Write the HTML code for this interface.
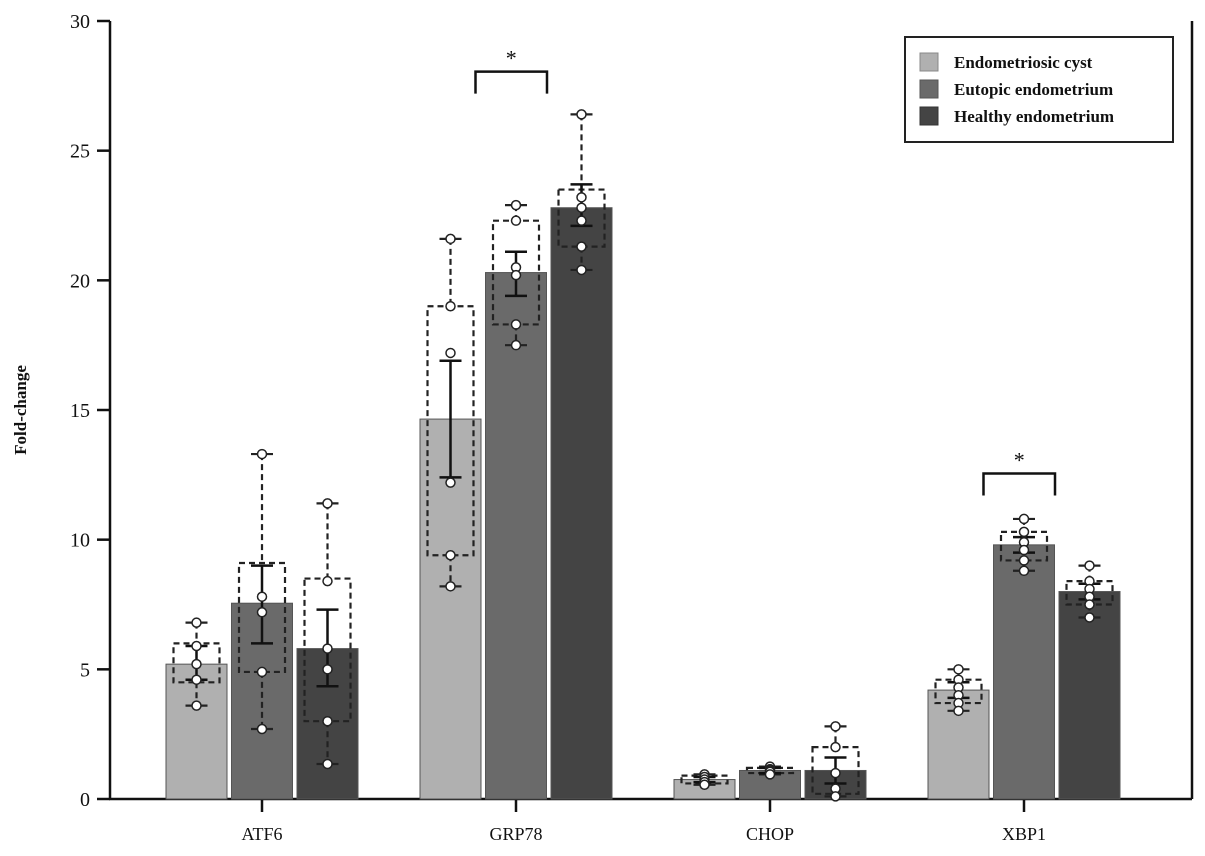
<!DOCTYPE html>
<html><head><meta charset="utf-8"><style>body{margin:0;background:#fff}svg{display:block}text{font-family:"Liberation Serif",serif;fill:#111}</style></head>
<body>
<svg id="chart" width="1205" height="856" xmlns="http://www.w3.org/2000/svg">
<g id="axes"></g>
<g id="marks"></g>
<g id="legend">
<rect x="905" y="37" width="268" height="105" fill="#fff" stroke="#222" stroke-width="2"/>
<rect x="920" y="53" width="18" height="18" fill="#b0b0b0" stroke="#888" stroke-width="1"/>
<text x="954" y="68" font-size="17" font-weight="bold">Endometriosic cyst</text>
<rect x="920" y="80" width="18" height="18" fill="#6a6a6a" stroke="#555" stroke-width="1"/>
<text x="954" y="95" font-size="17" font-weight="bold">Eutopic endometrium</text>
<rect x="920" y="107" width="18" height="18" fill="#444" stroke="#333" stroke-width="1"/>
<text x="954" y="122" font-size="17" font-weight="bold">Healthy endometrium</text>
</g>
</svg>
<script>
const categories=["ATF6","GRP78","CHOP","XBP1"];
const yTicks=[0,5,10,15,20,25,30];
const means=[[5.2,7.55,5.8],[14.65,20.3,22.8],[0.75,1.1,1.1],[4.2,9.8,8.0]];
const seLow=[[4.6,6.0,4.35],[12.4,19.4,22.1],[0.65,1.0,0.6],[3.9,9.5,7.7]];
const seHigh=[[5.9,9.0,7.3],[16.9,21.1,23.7],[0.85,1.2,1.6],[4.5,10.1,8.3]];
const q1=[[4.5,4.9,3.0],[9.4,18.3,21.3],[0.6,1.0,0.2],[3.7,9.2,7.5]];
const q3=[[6.0,9.1,8.5],[19.0,22.3,23.5],[0.9,1.2,2.0],[4.6,10.3,8.4]];
const mins=[[3.6,2.7,1.35],[8.2,17.5,20.4],[0.55,0.95,0.1],[3.4,8.8,7.0]];
const maxs=[[6.8,13.3,11.4],[21.6,22.9,26.4],[0.95,1.25,2.8],[5.0,10.8,9.0]];
const points=[
 [[6.8,5.9,5.2,4.6,3.6],[13.3,7.8,7.2,4.9,2.7],[11.4,8.4,5.8,5.0,3.0,1.35]],
 [[21.6,19.0,17.2,12.2,9.4,8.2],[22.9,22.3,20.5,20.2,18.3,17.5],[26.4,23.2,22.8,22.3,21.3,20.4]],
 [[0.95,0.85,0.75,0.65,0.55],[1.25,1.15,1.1,1.05,0.95],[2.8,2.0,1.0,0.4,0.1]],
 [[5.0,4.6,4.3,4.0,3.7,3.4],[10.8,10.3,9.9,9.6,9.2,8.8],[9.0,8.4,8.1,7.8,7.5,7.0]]];
const sig=[{cat:1,a:0,b:1,h:28.05},{cat:3,a:0,b:1,h:12.55}];
const colors=["#b0b0b0","#6a6a6a","#444444"];
const NS="http://www.w3.org/2000/svg";
const y0=799,yTop=21,xL=110,xR=1192;
const y=v=>y0-(v/30)*(y0-yTop);
const cx=i=>262+i*254;
const bx=(i,j)=>cx(i)+(j-1)*65.5;
const BW=61;
function mk(p,tag,at){const e=document.createElementNS(NS,tag);for(const k in at)e.setAttribute(k,at[k]);p.appendChild(e);return e;}
const ax=document.getElementById('axes'),mg=document.getElementById('marks');
let e;
e=mk(ax,'line',{x1:xL,y1:yTop,x2:xL,y2:y0+1,stroke:'#111','stroke-width':2.5});

e=mk(ax,'line',{x1:xL-1,y1:y0,x2:xR,y2:y0,stroke:'#111','stroke-width':2.5});

e=mk(ax,'line',{x1:xR,y1:yTop,x2:xR,y2:y0,stroke:'#111','stroke-width':2.5});

yTicks.forEach(t=>{
 e=mk(ax,'line',{x1:xL-13,y1:y(t),x2:xL,y2:y(t),stroke:'#111','stroke-width':2.5});
 
 e=mk(ax,'text',{x:xL-20,y:y(t)+7,'text-anchor':'end','font-size':20});e.textContent=t;
 
});
e=mk(ax,'text',{x:0,y:0,transform:'translate(26,410) rotate(-90)','text-anchor':'middle','font-size':17,'font-weight':'bold'});e.textContent='Fold-change';

categories.forEach((c,i)=>{
 e=mk(ax,'line',{x1:cx(i),y1:y0,x2:cx(i),y2:y0+13,stroke:'#111','stroke-width':2.5});
 
 e=mk(ax,'text',{x:cx(i),y:840,'text-anchor':'middle','font-size':18});e.textContent=c;
 
 for(let j=0;j<3;j++){
  const x=bx(i,j),m=means[i][j];
  e=mk(mg,'rect',{x:x-BW/2,y:y(m),width:BW,height:y0-y(m),fill:colors[j],stroke:'#555','stroke-width':1});
  
  const g=mk(mg,'g',{});
  
  const ds={stroke:'#222','stroke-width':2.2,'stroke-dasharray':'6,4',fill:'none'};
  mk(g,'rect',Object.assign({x:x-23,y:y(q3[i][j]),width:46,height:y(q1[i][j])-y(q3[i][j])},ds));
  mk(g,'line',Object.assign({x1:x,y1:y(maxs[i][j]),x2:x,y2:y(q3[i][j])},ds));
  mk(g,'line',Object.assign({x1:x,y1:y(q1[i][j]),x2:x,y2:y(mins[i][j])},ds));
  [maxs[i][j],mins[i][j]].forEach(v=>mk(g,'line',{x1:x-11,y1:y(v),x2:x+11,y2:y(v),stroke:'#222','stroke-width':2.2}));
  const eb=mk(mg,'g',{stroke:'#111','stroke-width':2.5});
  
  mk(eb,'line',{x1:x,y1:y(seHigh[i][j]),x2:x,y2:y(seLow[i][j])});
  mk(eb,'line',{x1:x-11,y1:y(seHigh[i][j]),x2:x+11,y2:y(seHigh[i][j])});
  mk(eb,'line',{x1:x-11,y1:y(seLow[i][j]),x2:x+11,y2:y(seLow[i][j])});
  points[i][j].forEach(v=>{
   e=mk(mg,'circle',{cx:x,cy:y(v),r:4.5,fill:'#fff',stroke:'#222','stroke-width':1.5});
   
  });
 }
});
sig.forEach(s=>{
 const xa=bx(s.cat,s.a)+25,xb=bx(s.cat,s.b)+31,yy=y(s.h);
 e=mk(mg,'path',{d:`M${xa},${yy+22}V${yy}H${xb}V${yy+22}`,fill:'none',stroke:'#111','stroke-width':2.5});
 
 e=mk(mg,'text',{x:(xa+xb)/2,y:yy-6,'text-anchor':'middle','font-size':22});e.textContent='*';
 
});
</script>
</body></html>
